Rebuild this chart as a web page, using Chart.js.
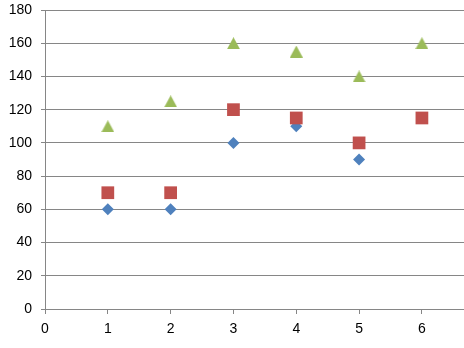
<!DOCTYPE html>
<html>
<head>
<meta charset="utf-8">
<script src="https://cdn.jsdelivr.net/npm/chart.js@4/dist/chart.umd.min.js"></script>
<style>
  html, body { margin: 0; padding: 0; background: #fff; }
  #wrap { width: 464px; height: 348px; }
</style>
</head>
<body>
<div id="wrap"><canvas id="c" width="464" height="348"></canvas></div>
<script>
// x positions shared by all series
const xValues = [1, 2, 3, 4, 5, 6];
// series values
const blueValues = [60, 60, 100, 110, 90];
const redValues = [70, 70, 120, 115, 100, 115];
const greenValues = [110, 125, 160, 155, 140, 160];
// axis tick labels
const xTicks = [0, 1, 2, 3, 4, 5, 6];
const yTicks = [0, 20, 40, 60, 80, 100, 120, 140, 160, 180];

const gridGray = '#868686';

// triangle marker centred on its bounding box
function triangleMarker(color) {
  const cv = document.createElement('canvas');
  cv.width = 13; cv.height = 12;
  const g = cv.getContext('2d');
  g.fillStyle = color;
  g.beginPath();
  g.moveTo(6.5, 0);
  g.lineTo(13, 12);
  g.lineTo(0, 12);
  g.closePath();
  g.fill();
  return cv;
}

function toPoints(xs, ys) {
  return ys.map((y, i) => ({ x: xs[i], y: y }));
}

Chart.defaults.font.family = '"Liberation Sans", Arial, sans-serif';
Chart.defaults.font.size = 14;
Chart.defaults.color = '#000';

new Chart(document.getElementById('c'), {
  type: 'scatter',
  data: {
    datasets: [
      {
        data: toPoints(xValues, blueValues),
        pointStyle: 'rectRot',
        pointRadius: 6,
        pointHoverRadius: 6,
        backgroundColor: '#4F81BD',
        borderColor: '#4F81BD',
        borderWidth: 0,
        order: 3
      },
      {
        data: toPoints(xValues, redValues),
        pointStyle: 'rect',
        pointRadius: 9,
        pointHoverRadius: 9,
        backgroundColor: '#C0504D',
        borderColor: '#C0504D',
        borderWidth: 0,
        order: 2
      },
      {
        data: toPoints(xValues, greenValues),
        pointStyle: triangleMarker('#9BBB59'),
        pointRadius: 7,
        backgroundColor: '#9BBB59',
        borderWidth: 0,
        order: 1
      }
    ]
  },
  options: {
    responsive: false,
    animation: false,
    events: [],
    layout: { autoPadding: false, padding: { top: 10, right: 0, bottom: 0, left: 0 } },
    plugins: { legend: { display: false }, tooltip: { enabled: false } },
    scales: {
      x: {
        type: 'linear',
        min: 0,
        max: 6.67,
        ticks: { padding: 7, maxRotation: 0, autoSkip: false },
        afterBuildTicks: (scale) => {
          scale.ticks = xTicks.map(v => ({ value: v }));
        },
        afterFit: (scale) => {
          scale.height = 39;
          scale.paddingLeft = 0;
          scale.paddingRight = 0;
        },
        grid: { drawOnChartArea: false, drawTicks: true, tickLength: 5, color: gridGray, lineWidth: 1 },
        border: { display: true, color: gridGray, width: 1 }
      },
      y: {
        type: 'linear',
        min: 0,
        max: 180,
        ticks: { padding: 9, autoSkip: false },
        afterBuildTicks: (scale) => {
          scale.ticks = yTicks.map(v => ({ value: v }));
        },
        afterFit: (scale) => {
          scale.width = 45;
          scale.paddingTop = 0;
          scale.paddingBottom = 0;
        },
        grid: { drawOnChartArea: true, drawTicks: true, tickLength: 4, color: gridGray, lineWidth: 1 },
        border: { display: true, color: gridGray, width: 1 }
      }
    }
  }
});
</script>
</body>
</html>
